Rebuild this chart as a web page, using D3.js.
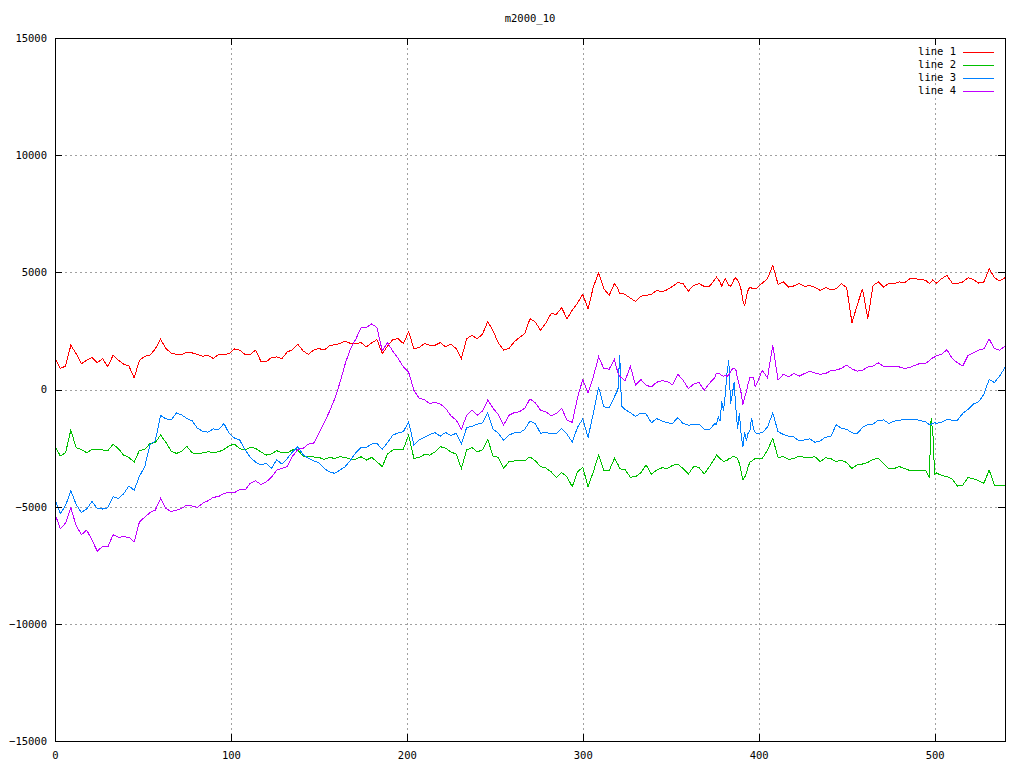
<!DOCTYPE html>
<html><head><meta charset="utf-8">
<script src="https://cdn.jsdelivr.net/npm/d3@7"></script>
<style>
body{margin:0;background:#fff}
svg{display:block}
text{font-family:"DejaVu Sans Mono",monospace;font-size:10.5px;fill:#000}
</style>
</head><body>
<svg id="c" width="1024" height="768"></svg>
<script>
const title = "m2000_10";
const seriesNames = ["line 1", "line 2", "line 3", "line 4"];
const seriesColors = ["#ff0000", "#00c000", "#0080ff", "#c000ff"];
const xTicks = [0, 100, 200, 300, 400, 500];
const yTicks = [-15000, -10000, -5000, 0, 5000, 10000, 15000];

const xs = [0,3,6,9,12,15,18,21,24,27,30,33,36,39,42,45,48,51,54,57,60,63,66,69,72,75,78,81,84,87,90,93,96,99,102,105,108,111,114,117,120,123,126,129,132,135,138,141,144,147,150,153,156,159,162,165,168,171,174,177,180,183,186,189,192,195,198,201,204,207,210,213,216,219,222,225,228,231,234,237,240,243,246,249,252,255,258,261,264,267,270,273,276,279,282,285,288,291,294,297,300,303,306,309,312,315,318,320,321,322,324,327,330,333,336,339,342,345,348,351,354,357,360,363,366,369,372,375,376,377,378,379,380,381,382,383,384,385,386,387,388,389,390,391,392,393,394,395,396,397,398,399,402,405,408,411,414,417,420,423,426,429,432,435,438,441,444,447,450,453,456,459,462,465,468,471,474,477,480,483,486,489,492,495,497,498,499,500,501,504,507,510,513,516,519,522,525,528,531,534,537,540];

const line1 = [1350,900,1000,1890,1530,1100,1250,1360,1140,1320,970,1460,1250,1080,1000,500,1250,1420,1460,1730,2150,1750,1560,1500,1490,1600,1560,1500,1420,1460,1320,1500,1490,1530,1730,1680,1500,1500,1680,1210,1180,1360,1390,1320,1600,1700,1930,1650,1500,1680,1750,1680,1860,1920,1960,2070,1960,1960,2000,1820,1990,2130,1530,1850,2130,2170,1960,2460,1750,1790,1960,1890,1890,2000,1820,1930,1750,1320,2170,2310,2170,2360,2900,2500,1990,1680,1750,2030,2220,2390,3020,2880,2530,2840,3240,3210,3490,3020,3380,3690,4060,3450,4370,4970,4300,4020,4520,4300,4090,4100,4060,3900,3760,3980,4020,4060,4230,4160,4260,4400,4560,4520,4200,4440,4520,4400,4400,4690,4800,4700,4600,4400,4600,4730,4590,4450,4400,4540,4700,4780,4660,4500,4250,3800,3550,3950,4250,4370,4330,4300,4300,4330,4540,4730,5300,4490,4590,4370,4420,4520,4400,4440,4350,4230,4350,4260,4300,4520,4350,2850,3600,4300,3020,4440,4590,4370,4540,4520,4590,4560,4730,4730,4690,4660,4520,4590,4690,4590,4540,4730,4870,4540,4520,4590,4770,4690,4540,4590,5150,4770,4630,4770];

const line2 = [-2400,-2840,-2700,-1730,-2480,-2560,-2700,-2560,-2560,-2580,-2620,-2330,-2520,-2800,-2900,-3100,-2600,-2560,-2300,-2270,-1940,-2250,-2620,-2730,-2630,-2430,-2700,-2750,-2700,-2660,-2680,-2660,-2560,-2400,-2330,-2530,-2580,-2470,-2510,-2660,-2800,-2750,-2610,-2700,-2700,-2580,-2580,-2840,-2840,-2880,-2900,-2980,-2900,-2940,-2870,-2900,-2980,-2970,-2870,-3010,-2900,-3080,-3300,-2750,-2580,-2560,-2540,-1950,-2940,-2900,-2770,-2800,-2670,-2440,-2500,-2670,-2750,-3370,-2580,-2480,-2660,-2580,-2130,-2840,-2900,-3370,-3080,-3050,-3050,-3040,-2870,-3040,-3290,-3350,-3510,-3750,-3550,-3720,-4150,-3510,-3320,-4150,-3510,-2800,-3440,-3460,-2940,-3200,-3370,-3400,-3410,-3740,-3720,-3550,-3220,-3610,-3440,-3340,-3370,-3240,-3180,-3370,-3610,-3290,-3320,-3610,-3290,-2940,-2800,-2870,-2940,-3010,-3080,-3050,-3040,-2950,-2940,-2870,-2860,-2900,-2950,-3150,-3500,-3850,-3750,-3580,-3300,-3100,-3080,-3000,-2950,-2950,-2950,-2580,-2090,-2900,-2870,-2980,-2950,-2840,-2900,-2900,-2870,-3080,-2910,-2950,-3080,-3010,-3120,-3370,-3210,-3180,-3110,-2980,-2940,-3150,-3380,-3370,-3290,-3370,-3460,-3440,-3440,-3460,-3770,-1210,-1850,-3630,-3560,-3670,-3720,-3830,-4120,-4080,-3750,-3810,-3890,-4000,-3440,-4080,-4080,-4090];

const line3 = [-4700,-5300,-4950,-4320,-4900,-5250,-5100,-4780,-5070,-5100,-5050,-4570,-4650,-4450,-4120,-4300,-3700,-3300,-2350,-2200,-1100,-1250,-1300,-1000,-1080,-1240,-1340,-1660,-1780,-1820,-1680,-1720,-1450,-1880,-2070,-2160,-2570,-2890,-3100,-3220,-3150,-3370,-3000,-3180,-2950,-2660,-2440,-2780,-2940,-3040,-3120,-3370,-3510,-3580,-3440,-3290,-3010,-2700,-2470,-2470,-2330,-2300,-2550,-2270,-1950,-1850,-1800,-1380,-2370,-2160,-2040,-1920,-1840,-1990,-1830,-1970,-1870,-2330,-1620,-1580,-1480,-1420,-1000,-1700,-1860,-2170,-1950,-1850,-1850,-1700,-1350,-1450,-1870,-1830,-1900,-1870,-1660,-1900,-2250,-1620,-1250,-2050,-1020,100,-740,-790,-310,0,1490,-700,-850,-990,-1150,-1000,-1050,-1420,-1240,-1350,-1420,-1450,-1200,-1450,-1520,-1500,-1480,-1700,-1720,-1450,-1500,-1160,-1350,-500,-900,-200,700,1250,-600,-200,300,-800,-1700,-1000,-1900,-2450,-1800,-2200,-1850,-1750,-1200,-1650,-1850,-1870,-1850,-1600,-1000,-1800,-1920,-1990,-2030,-2200,-2150,-2110,-2250,-2200,-2030,-2020,-1500,-1650,-1700,-1850,-1880,-1620,-1500,-1480,-1310,-1300,-1450,-1350,-1310,-1280,-1300,-1280,-1330,-1380,-1500,-1480,-1450,-1420,-1440,-1400,-1280,-1310,-1310,-1020,-850,-620,-530,-200,430,300,580,940];

const line4 = [-5300,-5950,-5700,-5050,-5800,-6200,-6000,-6420,-6900,-6700,-6720,-6200,-6300,-6290,-6300,-6500,-5650,-5450,-5250,-5150,-4650,-5070,-5210,-5150,-5070,-4930,-4970,-5030,-4850,-4750,-4600,-4570,-4430,-4400,-4400,-4270,-4290,-4000,-3900,-4050,-3950,-3750,-3440,-3370,-3290,-2850,-2560,-2510,-2330,-2300,-1880,-1420,-940,-400,300,1110,1750,2150,2650,2650,2800,2650,1650,2000,1640,1330,970,740,-30,-380,-430,-600,-550,-620,-800,-1120,-1300,-1700,-1100,-880,-1100,-920,-450,-800,-1070,-1520,-1100,-990,-950,-800,-400,-570,-880,-950,-1120,-1020,-800,-1310,-1400,-350,430,-150,550,1390,890,870,1280,700,570,500,350,1000,180,430,180,110,310,370,350,200,650,400,40,230,300,-30,260,510,700,700,660,600,560,610,560,620,750,880,920,850,450,200,-150,-650,-350,-100,250,500,500,520,120,260,820,500,1890,400,650,540,680,570,680,780,700,650,680,800,830,900,1040,880,780,820,960,1000,1140,980,960,970,960,900,940,1040,1120,1130,1220,1320,1350,1390,1450,1500,1700,1320,1140,1000,1460,1560,1680,1740,2150,1750,1680,1850];

const series = [line1, line2, line3, line4];

const margin = {left: 55, right: 1005, top: 38, bottom: 741};
const svg = d3.select("#c");

const x = d3.scaleLinear().domain([0, 540]).range([margin.left, margin.right]);
const y = d3.scaleLinear().domain([-15000, 15000]).range([margin.bottom, margin.top]);

// grid
const grid = svg.append("g").attr("shape-rendering", "crispEdges")
  .attr("stroke", "#a0a0a0").attr("stroke-width", 1).attr("stroke-dasharray", "2,3");
grid.selectAll(".gx").data(xTicks.filter(d => d > 0)).enter().append("line")
  .attr("x1", d => x(d) + 0.5).attr("x2", d => x(d) + 0.5).attr("y1", margin.top).attr("y2", margin.bottom);
grid.selectAll(".gy").data(yTicks.filter(d => d > -15000 && d < 15000)).enter().append("line")
  .attr("x1", margin.left).attr("x2", margin.right).attr("y1", d => y(d) + 0.5).attr("y2", d => y(d) + 0.5);

// series lines
const lineGen = d3.line().x((d, i) => x(xs[i])).y(d => y(d));
series.forEach((s, k) => {
  svg.append("path").datum(s)
    .attr("fill", "none").attr("stroke", seriesColors[k]).attr("stroke-width", 1)
    .attr("shape-rendering", "crispEdges")
    .attr("d", lineGen);
});

// axes with inward ticks
function styleAxis(g) {
  g.select(".domain").remove();
  g.selectAll("line").attr("stroke", "#000").attr("shape-rendering", "crispEdges");
  g.selectAll("text").attr("font-family", "DejaVu Sans Mono").attr("font-size", "10.5px");
}
svg.append("g").attr("transform", `translate(${margin.left},0)`)
  .call(d3.axisLeft(y).tickValues(yTicks).tickSize(-7).tickPadding(8).tickFormat(d3.format("d")))
  .call(styleAxis);
svg.append("g").attr("transform", `translate(${margin.right},0)`)
  .call(d3.axisRight(y).tickValues(yTicks).tickSize(-7).tickFormat(""))
  .call(styleAxis);
svg.append("g").attr("transform", `translate(0,${margin.bottom})`)
  .call(d3.axisBottom(x).tickValues(xTicks).tickSize(-7).tickPadding(11).tickFormat(d3.format("d")))
  .call(styleAxis);
svg.append("g").attr("transform", `translate(0,${margin.top})`)
  .call(d3.axisTop(x).tickValues(xTicks).tickSize(-7).tickFormat(""))
  .call(styleAxis);

// frame
svg.append("rect").attr("x", margin.left + 0.5).attr("y", margin.top + 0.5)
  .attr("width", margin.right - margin.left).attr("height", margin.bottom - margin.top)
  .attr("fill", "none").attr("stroke", "#000").attr("stroke-width", 1)
  .attr("shape-rendering", "crispEdges");

// title
svg.append("text").attr("x", (margin.left + margin.right) / 2).attr("y", 19)
  .attr("text-anchor", "middle").attr("dominant-baseline", "middle").text(title);

// legend
const leg = svg.append("g");
seriesNames.forEach((n, k) => {
  const yy = 52 + k * 13;
  leg.append("text").attr("x", 956).attr("y", yy).attr("text-anchor", "end")
    .attr("dominant-baseline", "middle").text(n);
  leg.append("line").attr("x1", 963).attr("x2", 994).attr("y1", yy + 0.5).attr("y2", yy + 0.5)
    .attr("stroke", seriesColors[k]).attr("stroke-width", 1);
});
</script>
</body></html>
